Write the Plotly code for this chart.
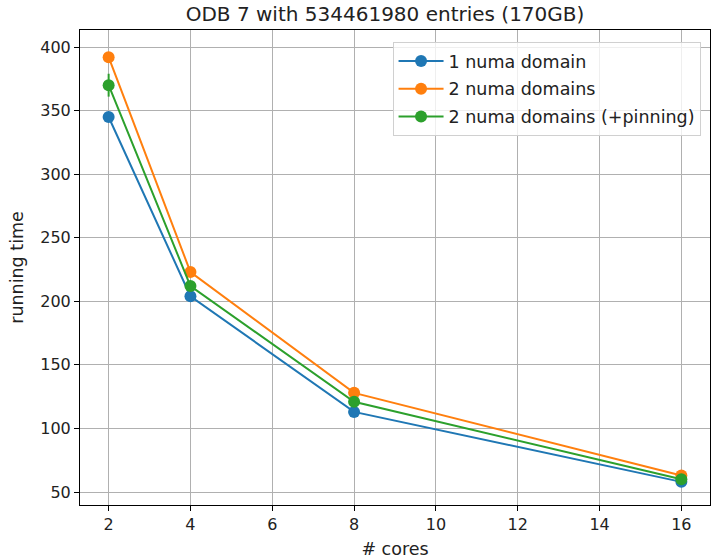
import plotly.graph_objects as go

cores = [2, 4, 8, 16]
one_numa = [345, 204, 113, 58]
one_numa_err = [2, 2, 1.5, 1]
two_numa = [392, 223, 128, 63]
two_numa_err = [2, 2, 1.5, 1]
two_numa_pin = [370, 212, 121, 60]
two_numa_pin_err = [9, 2, 1.5, 1]

series = [
    ("1 numa domain", one_numa, one_numa_err, "#1f77b4"),
    ("2 numa domains", two_numa, two_numa_err, "#ff7f0e"),
    ("2 numa domains (+pinning)", two_numa_pin, two_numa_pin_err, "#2ca02c"),
]

fig = go.Figure()
for i, (name, ys, errs, col) in enumerate(series):
    fig.add_trace(go.Scatter(
        x=cores, y=ys, name=name, mode="lines+markers", legendgroup=f"g{i}",
        line=dict(color=col, width=2),
        marker=dict(color=col, size=12),
        error_y=dict(type="data", array=errs, color=col, thickness=2, width=0),
    ))

font = "DejaVu Sans, sans-serif"
axis_common = dict(
    showgrid=True, gridcolor="#b0b0b0", gridwidth=1,
    showline=True, linecolor="black", linewidth=1, mirror=True,
    ticks="outside", ticklen=5, tickcolor="black",
    zeroline=False, tickfont=dict(size=16, color="#222"),
    automargin=False,
)
fig.update_layout(
    width=717, height=559,
    margin=dict(l=80, r=7, t=30, b=54),
    paper_bgcolor="white", plot_bgcolor="white",
    font=dict(family=font, size=16, color="#222"),
    title=dict(text="ODB 7 with 534461980 entries (170GB)", x=0.537, xanchor="center",
               y=0.975, yanchor="middle", font=dict(size=20)),
    xaxis=dict(range=[1.3, 16.7], tickvals=[2, 4, 6, 8, 10, 12, 14, 16],
               title=dict(text="# cores", font=dict(size=17.5), standoff=9), **axis_common),
    yaxis=dict(range=[39.8, 413.4], tickvals=[50, 100, 150, 200, 250, 300, 350, 400],
               title=dict(text="running time", font=dict(size=17.5), standoff=12), **axis_common),
    legend=dict(x=0.985, y=0.9747, xanchor="right", yanchor="top",
                bgcolor="rgba(255,255,255,0.8)", bordercolor="#d0d0d0", borderwidth=1,
                font=dict(size=17.5), tracegroupgap=2, itemwidth=45),
    showlegend=True,
)
fig.write_html("out.html", config={"displayModeBar": False},
               post_script="document.body.style.margin='0px';")
